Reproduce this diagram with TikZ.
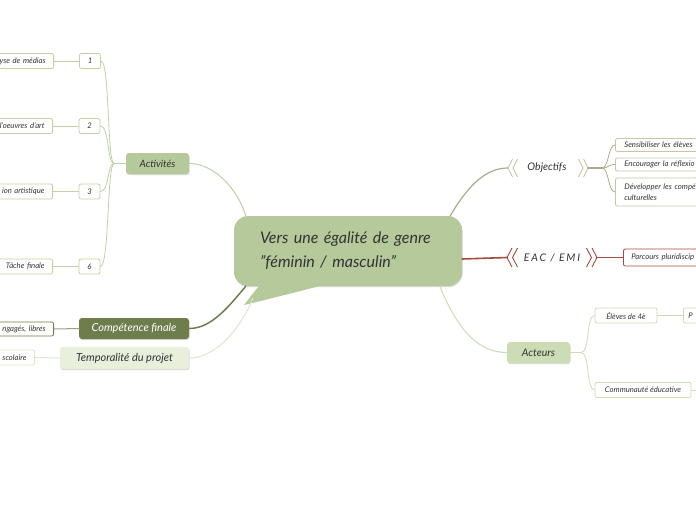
\documentclass[tikz,border=0pt]{standalone}
\usepackage{fontspec}
\setmainfont{Lato}
\usetikzlibrary{shadows}
\definecolor{cgreen}{HTML}{B5C99A}
\definecolor{cline}{HTML}{BFD2A5}
\definecolor{cdark}{HTML}{6E7D4C}
\definecolor{clight}{HTML}{E8F0DC}
\definecolor{clightline}{HTML}{DCE8CC}
\definecolor{cmid}{HTML}{CCDDB5}
\definecolor{ckhaki}{HTML}{ADAB8C}
\definecolor{ckhakibox}{HTML}{C9C6A8}
\definecolor{cred}{HTML}{A34A3C}
\definecolor{ctext}{HTML}{333333}
\tikzset{
  small/.style={font=\itshape\fontsize{7.7}{9.5}\selectfont, text=ctext},
  leafbox/.style={draw=#1, fill=white, rounded corners=2pt, line width=0.8pt, small, inner xsep=8pt, inner ysep=0pt, minimum height=15pt},
  leafL/.style={leafbox=#1, anchor=east, text width=80pt, align=right},
  leafR/.style={leafbox=#1, anchor=west, text width=120pt, align=left},
  numbox/.style={draw=cline, fill=white, rounded corners=2pt, line width=0.8pt, small, minimum width=21pt, minimum height=15pt, inner sep=0pt},
  softshadow/.style={drop shadow={shadow xshift=0.6pt, shadow yshift=-1.2pt, opacity=0.15, fill=black}},
  topic/.style={rounded corners=3pt, inner sep=0pt, font=\itshape\fontsize{10.5}{12}\selectfont, text=ctext, softshadow},
  conn/.style={line width=#1, line cap=round},
  chev/.style={line width=0.9pt, line join=miter}
}
\begin{document}
\begin{tikzpicture}[x=1pt,y=-1pt]
\useasboundingbox (0,0) rectangle (696,520);
\clip (0,0) rectangle (696,520);
\fill[white] (0,0) rectangle (696,520);

% central bubble
\node[fill=cgreen, rounded corners=14pt, minimum width=228pt, minimum height=70pt, inner sep=0pt, softshadow,
      text width=176pt, align=left, font=\itshape\fontsize{16}{24}\selectfont, text=ctext] (c) at (348,251)
  {Vers une égalité de genre\\\symbol{34}féminin / masculin\symbol{34}};
\fill[cgreen] (262,282) -- (244,305) .. controls (285,295) .. (335,282) -- cycle;
\coordinate (ctail) at (253,298);

% ---------- Activités ----------
\node[topic, fill=cgreen, minimum width=63pt, minimum height=21pt, font=\itshape\fontsize{10}{12}\selectfont] (act) at (157.5,163.5) {Activités};
\node[numbox] (n1) at (90,61) {1};
\node[numbox] (n2) at (89.5,126) {2};
\node[numbox] (n3) at (89.5,191.5) {3};
\node[numbox] (n6) at (89.5,266.5) {6};
\node[leafL=cline] (l1) at (54,61) {yse de médias};
\node[leafL=cline] (l2) at (53,126) {l'oeuvres d'art};
\node[leafL=cline] (l3) at (53,191.5) {ion artistique};
\node[leafL=cline] (l6) at (53,266.5) {Tâche finale};
\coordinate (actj) at (114,163.5);
\draw[conn=0.8pt, cline] (act.west) -- (actj);
\foreach \n in {n1,n2,n3,n6}{
  \draw[conn=0.8pt, cline] (actj) .. controls +(-7,0) and +(9,0) .. (\n.east);
}
\draw[conn=1pt, cline] (n1.west) -- (l1.east);
\draw[conn=1pt, cline] (n2.west) -- (l2.east);
\draw[conn=1pt, cline] (n3.west) -- (l3.east);
\draw[conn=1pt, cline] (n6.west) -- (l6.east);
\draw[conn=1pt, cline] (act.east) .. controls (215,163.5) and (238,190) .. (c.161);

% ---------- Compétence finale ----------
\node[topic, fill=cdark, text=white, minimum width=110pt, minimum height=21pt, font=\itshape\fontsize{11}{13}\selectfont] (comp) at (134,328.5) {Compétence finale};
\node[leafL=cdark, minimum height=14pt] (lc) at (54,329) {ngagés, libres};
\draw[conn=1pt, cdark!70] (comp.west) -- (lc.east);
\draw[conn=1.5pt, cdark] (comp.east) .. controls (212,328.5) and (230,305) .. (c.199);

% ---------- Temporalité ----------
\node[topic, fill=clight, minimum width=129pt, minimum height=22pt, font=\itshape\fontsize{11}{13}\selectfont] (temp) at (124.5,358) {Temporalité du projet};
\node[leafL=clightline, minimum height=15pt] (lt) at (35,357.5) {scolaire};
\draw[conn=1pt, clightline] (temp.west) -- (lt.east);
\draw[conn=1pt, clightline] (temp.east) .. controls (215,358) and (240,330) .. (ctail);

% ---------- Objectifs ----------
\node[font=\itshape\fontsize{10.5}{12}\selectfont, text=ctext] (obj) at (547,168) {Objectifs};
\coordinate (objL) at (508,168);
\coordinate (objR) at (588,168);
\coordinate (objJ) at (602,168);
\draw[chev, ckhakibox] (512.5,159) -- (objL) -- (512.5,177);
\draw[chev, ckhakibox] (517.5,159) -- (513,168) -- (517.5,177);
\draw[chev, ckhakibox] (578.5,159) -- (583,168) -- (578.5,177);
\draw[chev, ckhakibox] (583.5,159) -- (objR) -- (583.5,177);
\draw[conn=1.2pt, ckhaki] (c.19.5) .. controls (470,182) and (488,168) .. (objL);
\draw[conn=1.5pt, ckhaki] (objR) -- (objJ);
\node[leafR=ckhakibox, minimum height=13pt, inner xsep=9pt] (o1) at (615,145) {Sensibiliser les élèves};
\node[leafR=ckhakibox, minimum height=13pt, inner xsep=9pt] (o2) at (615,164.5) {Encourager la réflexio};
\node[leafR=ckhakibox, minimum height=28pt, inner xsep=9pt] (o3) at (615,192) {Développer les compé\\[1pt]culturelles};
\foreach \o in {o1,o2,o3}{
  \draw[conn=0.8pt, ckhaki] (objJ) .. controls +(7,0) and +(-7,0) .. (\o.west);
}

% ---------- EAC / EMI ----------
\node[font=\itshape\fontsize{10.5}{12}\selectfont, text=ctext] (eac) at (552,257.5) {E\,A\,C\, /\, E\,M\,I};
\coordinate (eacL) at (507,257.5);
\coordinate (eacR) at (597,257.5);
\draw[chev, cred] (512,248) -- (eacL) -- (512,267);
\draw[chev, cred] (517.5,248) -- (512.5,257.5) -- (517.5,267);
\draw[chev, cred] (586.5,248) -- (591.5,257.5) -- (586.5,267);
\draw[chev, cred] (592,248) -- (eacR) -- (592,267);
\draw[conn=1.6pt, cred] (c.-4) -- (eacL);
\node[leafR=cred, minimum height=17pt] (e1) at (623,257.5) {Parcours pluridiscip};
\draw[conn=1pt, cred] (eacR) -- (e1.west);

% ---------- Acteurs ----------
\node[topic, fill=cmid, minimum width=63pt, minimum height=21pt] (act2) at (538.5,352.5) {Acteurs};
\draw[conn=1pt, cmid] (c.-21) .. controls (458,330) and (478,352.5) .. (act2.west);
\coordinate (actJ) at (581,352.5);
\draw[conn=1pt, cmid] (act2.east) -- (actJ);
\node[leafbox=cmid, minimum width=62pt, inner xsep=4pt] (el) at (626,315.5) {Élèves de 4è};
\node[leafbox=cmid, minimum width=96pt, inner xsep=4pt] (cm) at (643,390) {Communauté éducative};
\node[leafR=cmid, inner xsep=5pt] (p1) at (683,315.5) {P};
\coordinate (cmR) at (700,390);
\draw[conn=0.8pt, cmid] (actJ) .. controls (590,352.5) and (586,315.5) .. (el.west);
\draw[conn=0.8pt, cmid] (actJ) .. controls (590,352.5) and (586,390) .. (cm.west);
\draw[conn=1pt, cmid] (el.east) -- (p1.west);
\draw[conn=1pt, cmid] (cm.east) -- (cmR);
\end{tikzpicture}
\end{document}
